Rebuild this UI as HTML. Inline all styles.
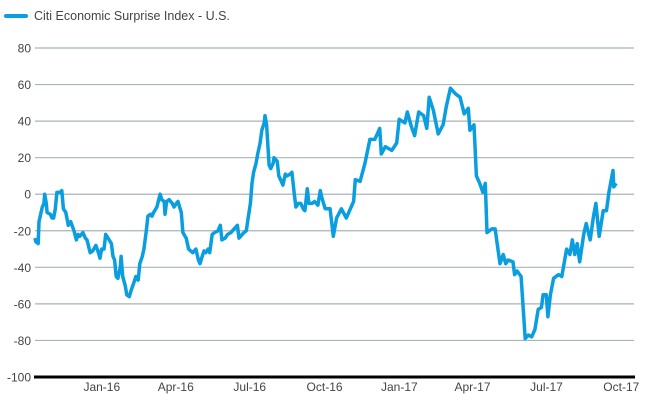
<!DOCTYPE html>
<html><head><meta charset="utf-8"><style>
body{margin:0;background:#fff;font-family:"Liberation Sans",sans-serif}
svg text{font-family:"Liberation Sans",sans-serif}
</style></head><body>
<svg id="chart" width="650" height="400">
<g>
<line x1="6" y1="16" x2="26" y2="16" stroke="#0a9ee0" stroke-width="4" stroke-linecap="round"/>
<text x="34" y="20" font-size="12.5" fill="#444">Citi Economic Surprise Index - U.S.</text>
</g>
<g id="grid"></g><g id="xt"></g><path id="line" fill="none" stroke="#0a9ee0" stroke-width="3.5" stroke-linejoin="round"/>
</svg>
<script>
const days=[11,12,15,16,20,22,23,25,26,30,32,34,36,38,42,44,46,49,52,55,59,62,64,66,70,73,75,79,82,86,89,91,93,96,98,101,105,107,109,111,113,116,117,119,122,124,127,129,133,135,138,140,143,145,148,150,153,155,157,161,165,167,170,171,173,176,180,182,185,187,191,193,197,200,205,209,212,214,216,219,221,224,226,229,232,236,239,241,245,248,252,256,260,262,264,268,271,273,276,278,280,283,285,288,290,293,294,296,299,301,304,305,309,311,314,316,319,321,325,327,330,332,335,338,341,343,346,348,352,355,359,362,364,368,374,378,382,388,394,403,405,411,417,423,429,435,437,442,450,456,459,466,469,474,478,483,489,493,496,501,507,513,517,522,528,534,539,544,546,551,554,558,562,565,567,573,577,583,587,590,593,599,601,604,609,614,618,622,626,630,634,636,640,642,645,649,655,659,665,669,672,675,678,681,686,689,694,698,701,705,710,714,717,722,723,726];
const values=[-24,-26,-27,-15,-7,-5,0,-5,-10,-11,-13,-13,-8,1,1,2,-8,-10,-17,-15,-20,-25,-22,-23,-21,-24,-25,-32,-31,-28,-32,-35,-30,-30,-22,-24,-27,-34,-36,-45,-46,-40,-34,-45,-50,-55,-56,-53,-48,-45,-47,-38,-34,-30,-20,-12,-11,-12,-10,-7,0,-3,-4,-11,-4,-3,-5,-7,-5,-4,-10,-21,-24,-30,-32,-30,-36,-38,-35,-31,-32,-30,-32,-22,-21,-20,-17,-25,-24,-22,-21,-19,-17,-24,-23,-21,-20,-14,-5,6,12,17,22,28,35,39,43,38,16,14,17,20,18,10,7,5,11,10,11,12,0,-7,-5,-5,-8,-9,3,-5,-5,-4,-6,2,-2,-8,-8,-23,-13,-8,-13,-4,8,7,17,30,30,36,22,26,24,28,41,39,45,37,32,45,43,36,53,46,33,38,48,58,55,53,44,47,35,38,10,6,1,6,-21,-19,-19,-38,-33,-38,-36,-37,-44,-42,-45,-79,-77,-78,-74,-63,-62,-55,-55,-67,-55,-46,-44,-45,-30,-33,-25,-33,-27,-37,-22,-16,-25,-12,-5,-23,-9,-9,1,13,4,6];
const yTicks=[80,60,40,20,0,-20,-40,-60,-80,-100];
const xTickDays=[92,183,274,366,458,548,639,731];
const xTickLabels=["Jan-16","Apr-16","Jul-16","Oct-16","Jan-17","Apr-17","Jul-17","Oct-17"];
const NS="http://www.w3.org/2000/svg";
const X=d=>26+d*0.813;
const Y=v=>48+(80-v)*(329/180);
const grid=document.getElementById('grid');
yTicks.forEach(t=>{
  if(t>-100){const l=document.createElementNS(NS,'line');
  l.setAttribute('x1',35);l.setAttribute('x2',634);l.setAttribute('y1',Y(t));l.setAttribute('y2',Y(t));
  l.setAttribute('stroke','#a9b3bc');l.setAttribute('stroke-width','1.2');
  
  
  grid.appendChild(l);}
  const tx=document.createElementNS(NS,'text');
  tx.setAttribute('x',31);tx.setAttribute('y',Y(t)+4.5);tx.setAttribute('text-anchor','end');
  tx.setAttribute('font-size','12');tx.setAttribute('fill','#444');tx.textContent=t;
  
  
  grid.appendChild(tx);
});
const ax=document.createElementNS(NS,'line');
ax.setAttribute('x1',34);ax.setAttribute('x2',635);ax.setAttribute('y1',Y(-100));ax.setAttribute('y2',Y(-100));
ax.setAttribute('stroke','#000');ax.setAttribute('stroke-width','3');


grid.appendChild(ax);
const xt=document.getElementById('xt');
xTickDays.forEach((d,i)=>{
  const tx=document.createElementNS(NS,'text');
  tx.setAttribute('x',X(d)+1);tx.setAttribute('y',391);tx.setAttribute('text-anchor','middle');
  tx.setAttribute('font-size','12');tx.setAttribute('fill','#444');tx.textContent=xTickLabels[i];
  
  
  xt.appendChild(tx);
});
const p=document.getElementById('line');
p.setAttribute('d',days.map((d,i)=>(i?'L':'M')+X(d).toFixed(1)+','+Y(values[i]).toFixed(1)).join(''));


</script>
</body></html>
